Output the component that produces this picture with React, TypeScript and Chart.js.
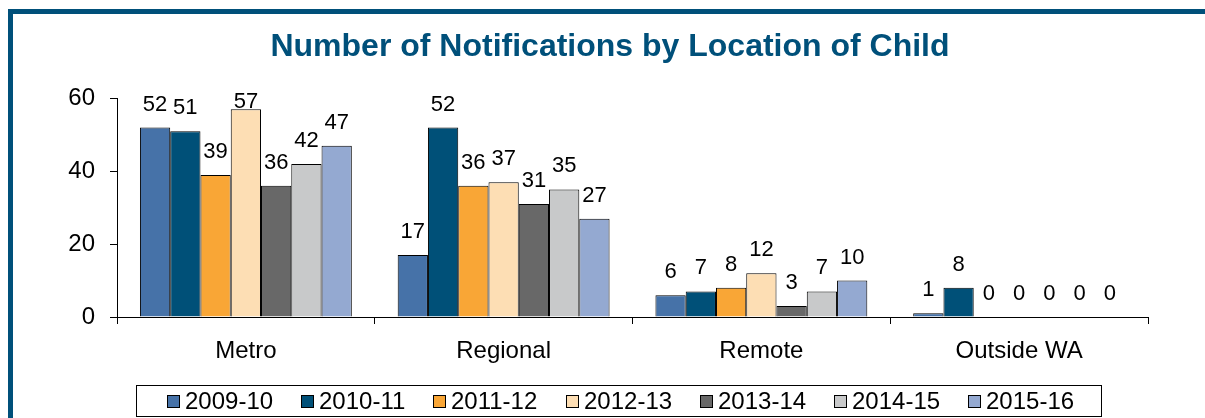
import React, { useEffect, useRef } from "react";
import { Chart, registerables } from "chart.js";

Chart.register(...registerables);

const TITLE = "Number of Notifications by Location of Child";
const categories = ["Metro", "Regional", "Remote", "Outside WA"];
const seriesNames = ["2009-10", "2010-11", "2011-12", "2012-13", "2013-14", "2014-15", "2015-16"];
const s2009 = [52, 17, 6, 1];
const s2010 = [51, 52, 7, 8];
const s2011 = [39, 36, 8, 0];
const s2012 = [57, 37, 12, 0];
const s2013 = [36, 31, 3, 0];
const s2014 = [42, 35, 7, 0];
const s2015 = [47, 27, 10, 0];
const seriesValues = [s2009, s2010, s2011, s2012, s2013, s2014, s2015];
const seriesColors = ["#4672A8", "#005078", "#F9A636", "#FDDEB4", "#686868", "#C8C9CA", "#94A9D1"];
const yTicks = [0, 20, 40, 60];

const FONT = "'Liberation Sans', Arial, Helvetica, sans-serif";
const FRAME = "#00507A";

const labelPlugin = {
  id: "valueLabels",
  afterDatasetsDraw(chart: any) {
    const ctx = chart.ctx;
    const area = chart.chartArea;
    ctx.save();
    ctx.font = `22px ${FONT}`;
    ctx.fillStyle = "#000";
    ctx.textAlign = "center";
    ctx.textBaseline = "alphabetic";
    chart.data.datasets.forEach((ds: any, di: number) => {
      const meta = chart.getDatasetMeta(di);
      meta.data.forEach((el: any, i: number) => {
        const v = ds.data[i];
        const y = Math.max(el.y - 17, area.top + 10);
        ctx.fillText(String(v), el.x, y);
      });
    });
    ctx.restore();
  },
};

const legendPlugin = {
  id: "boxLegend",
  afterDraw(chart: any) {
    const ctx = chart.ctx;
    ctx.save();
    ctx.font = `24px ${FONT}`;
    const box = 12;
    const gap = 6;
    const spacing = 28;
    const widths = chart.data.datasets.map((d: any) => box + gap + ctx.measureText(d.label).width);
    const total = widths.reduce((a: number, b: number) => a + b, 0) + spacing * (widths.length - 1);
    const cx = 620;
    const cy = 401;
    let x = Math.round(cx - total / 2);
    ctx.strokeStyle = "#000";
    ctx.lineWidth = 1;
    ctx.strokeRect(136.5, 385.5, 965, 31);
    chart.data.datasets.forEach((d: any, i: number) => {
      const bx = Math.round(x);
      ctx.fillStyle = d.backgroundColor;
      ctx.fillRect(bx + 0.5, cy - box / 2 + 0.5, box, box);
      ctx.strokeStyle = "#000";
      ctx.strokeRect(bx + 0.5, cy - box / 2 + 0.5, box, box);
      ctx.fillStyle = "#000";
      ctx.textAlign = "left";
      ctx.textBaseline = "middle";
      ctx.fillText(d.label, bx + box + gap, cy + 1);
      x += widths[i] + spacing;
    });
    ctx.restore();
  },
};

export default function App() {
  const ref = useRef<HTMLCanvasElement | null>(null);
  useEffect(() => {
    if (!ref.current) return;
    const chart = new Chart(ref.current, {
      type: "bar",
      data: {
        labels: categories,
        datasets: seriesNames.map((name, i) => ({
          label: name,
          data: seriesValues[i],
          backgroundColor: seriesColors[i],
          borderColor: "#000",
          borderWidth: 1,
          barPercentage: 1,
          categoryPercentage: 0.822,
          yAxisID: "y",
        })),
      },
      options: {
        animation: false,
        responsive: false,
        devicePixelRatio: 1,
        layout: { padding: { left: 15, right: 0, top: 0, bottom: 51 } },
        plugins: {
          legend: { display: false },
          tooltip: { enabled: false },
          title: {
            display: true,
            text: TITLE,
            color: FRAME,
            font: { family: FONT, size: 32, weight: "bold" },
            padding: { top: 28, bottom: 32 },
          },
        },
        scales: {
          x: {
            offset: true,
            grid: { display: true, drawOnChartArea: false, drawTicks: true, tickLength: 7, color: "#000", offset: true },
            border: { display: true, color: "#000", width: 1 },
            ticks: { color: "#000", font: { family: FONT, size: 24 }, padding: 13 },
            afterFit: (s: any) => { s.height = 50; },
          },
          y: {
            position: "left",
            min: 0,
            max: 60,
            afterBuildTicks: (s: any) => { s.ticks = yTicks.map((v) => ({ value: v })); },
            grid: { display: true, drawOnChartArea: false, drawTicks: true, tickLength: 7, color: "#000" },
            border: { display: true, color: "#000", width: 1 },
            ticks: { color: "#000", font: { family: FONT, size: 24 }, padding: 15 },
            afterFit: (s: any) => { s.width = 102; },
          },
          spacer: {
            type: "linear",
            position: "right",
            display: true,
            grid: { display: false },
            border: { display: false },
            ticks: { display: false },
            afterFit: (s: any) => { s.width = 57; },
          },
        },
      },
      plugins: [labelPlugin, legendPlugin],
    });
    return () => chart.destroy();
  }, []);
  return (
    <div style={{ position: "fixed", left: 0, top: 0, width: 1205, height: 418, overflow: "hidden", background: "#fff" }}>
      <div style={{ position: "absolute", left: 8, top: 9, width: 1400, height: 600, borderTop: `5px solid ${FRAME}`, borderLeft: `5px solid ${FRAME}` }} />
      <canvas ref={ref} width={1205} height={418} style={{ position: "absolute", left: 0, top: 0, width: 1205, height: 418 }} />
    </div>
  );
}
